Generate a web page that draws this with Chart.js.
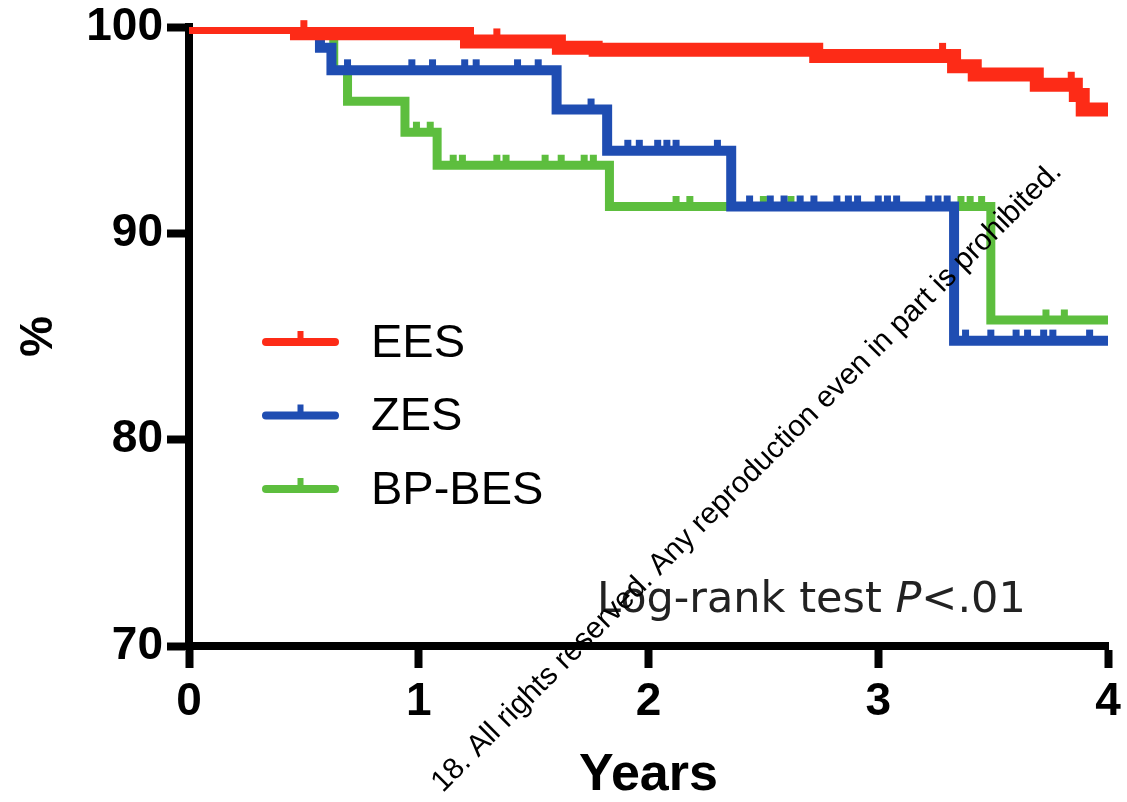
<!DOCTYPE html>
<html>
<head>
<title>Event-free survival by stent type</title>
<script src="https://cdn.jsdelivr.net/npm/chart.js"></script>
<style>
    body {
        margin: 0;
        padding: 0;
        background-color: #fff;
    }
    #wrap {
        width: 1127px;
        height: 802px;
    }
</style>
</head>
<body>
<div id="wrap"><canvas id="kmChart" width="1127" height="802"></canvas></div>

<script>
// Kaplan-Meier steps: time in years, estimate in %
var eesTimes = [0, 0.47, 1.21, 1.61, 1.77, 2.73, 3.33, 3.42, 3.69, 3.86, 3.89, 4.0];
var eesSurv  = [100, 99.7, 99.3, 99.0, 98.9, 98.6, 98.1, 97.7, 97.2, 96.7, 96.0, 96.0];
var eesCensor = [0.5, 1.34, 3.28, 3.84];

var zesTimes = [0, 0.57, 0.62, 1.60, 1.82, 2.36, 3.33, 4.0];
var zesSurv  = [100, 99.0, 97.9, 96.0, 94.0, 91.3, 84.8, 84.8];
var zesCensor = [0.69, 0.97, 1.06, 1.2, 1.25, 1.43, 1.52, 1.75, 1.91, 1.96, 2.04, 2.08,
                 2.12, 2.3, 2.44, 2.53, 2.59, 2.66, 2.72, 2.82, 2.87, 2.91, 3.0, 3.04,
                 3.08, 3.22, 3.26, 3.3, 3.38, 3.49, 3.6, 3.65, 3.72, 3.76, 3.92];

var bpTimes = [0, 0.63, 0.69, 0.94, 1.08, 1.83, 3.49, 4.0];
var bpSurv  = [100, 97.9, 96.4, 94.9, 93.3, 91.3, 85.8, 85.8];
var bpCensor = [0.99, 1.05, 1.15, 1.19, 1.34, 1.38, 1.55, 1.62, 1.72, 1.76, 2.12, 2.18,
                2.5, 2.62, 3.36, 3.4, 3.45, 3.73, 3.81];

var groupLabels = ['EES', 'ZES', 'BP-BES'];
var groupColors = ['#fd2b17', '#1f4db2', '#5dbe3e'];
var groupWidths = [14, 10, 9];

var xTicks = [0, 1, 2, 3, 4];
var yTicks = [70, 80, 90, 100];

var annotationText = ['Log-rank test ', 'P', '<.01'];
var noticeText = '18. All rights reserved. Any reproduction even in part is prohibited.';

function toPoints(times, surv) {
    return times.map(function(t, i) { return { x: t, y: surv[i] }; });
}

// survival value on the step curve at time t
function survAt(times, surv, t) {
    var s = surv[0];
    for (var i = 0; i < times.length; i++) {
        if (times[i] <= t) s = surv[i];
    }
    return s;
}

var curves = [
    { times: eesTimes, surv: eesSurv, censor: eesCensor },
    { times: zesTimes, surv: zesSurv, censor: zesCensor },
    { times: bpTimes, surv: bpSurv, censor: bpCensor }
];

var axisFont = { family: '"Liberation Sans", Arial, sans-serif', weight: 'bold', size: 46, lineHeight: 1 };

// small upward marks for censored observations
var censorMarks = {
    id: 'censorMarks',
    afterDatasetDraw: function(chart, args) {
        var c = curves[args.index];
        var ds = chart.data.datasets[args.index];
        var ctx = chart.ctx;
        var xs = chart.scales.x, ys = chart.scales.y;
        ctx.save();
        ctx.fillStyle = ds.borderColor;
        c.censor.forEach(function(t) {
            var px = xs.getPixelForValue(t);
            var py = ys.getPixelForValue(survAt(c.times, c.surv, t));
            var top = py - ds.borderWidth / 2;
            ctx.fillRect(px - 3.5, top - 6, 7, 7);
        });
        ctx.restore();
    }
};

// legend, test result and notice line
var overlay = {
    id: 'overlay',
    afterDraw: function(chart) {
        var ctx = chart.ctx;
        var area = chart.chartArea;
        ctx.save();

        chart.data.datasets.forEach(function(ds, i) {
            var y = area.top + 315 + i * 73.5;
            var x0 = area.left + 77, x1 = area.left + 146;
            ctx.strokeStyle = ds.borderColor;
            ctx.lineWidth = 8;
            ctx.lineCap = 'round';
            ctx.beginPath();
            ctx.moveTo(x0, y);
            ctx.lineTo(x1, y);
            ctx.stroke();
            ctx.fillStyle = ds.borderColor;
            ctx.fillRect((x0 + x1) / 2 - 3, y - 11, 6, 8);

            ctx.fillStyle = '#000';
            ctx.font = '47px "Liberation Sans", Arial, sans-serif';
            ctx.textBaseline = 'middle';
            ctx.textAlign = 'left';
            ctx.fillText(ds.label, area.left + 182, y + 2);
        });

        // log-rank result
        var x = 597, base = 612;
        var face = '"DejaVu Sans", sans-serif';
        ctx.fillStyle = '#222';
        ctx.textBaseline = 'alphabetic';
        ctx.font = '43px ' + face;
        ctx.fillText(annotationText[0], x, base);
        x += ctx.measureText(annotationText[0]).width;
        ctx.font = 'italic 43px ' + face;
        ctx.fillText(annotationText[1], x, base);
        x += ctx.measureText(annotationText[1]).width;
        ctx.font = '43px ' + face;
        ctx.fillText(annotationText[2], x, base);

        // diagonal notice
        ctx.translate(1063, 173);
        ctx.rotate(-45 * Math.PI / 180);
        ctx.font = '30px "Liberation Sans", Arial, sans-serif';
        ctx.fillStyle = '#000';
        ctx.textAlign = 'right';
        ctx.fillText(noticeText, 0, 0);

        ctx.restore();
    }
};

var ctx = document.getElementById('kmChart').getContext('2d');
var kmChart = new Chart(ctx, {
    type: 'line',
    data: {
        datasets: curves.map(function(c, i) {
            return {
                label: groupLabels[i],
                data: toPoints(c.times, c.surv),
                borderColor: groupColors[i],
                backgroundColor: groupColors[i],
                borderWidth: groupWidths[i],
                borderCapStyle: 'butt',
                borderJoinStyle: 'miter',
                stepped: 'before',
                pointRadius: 0,
                fill: false
            };
        })
    },
    options: {
        responsive: false,
        animation: false,
        layout: { padding: { top: 25, right: 19, bottom: 0, left: 0 } },
        plugins: {
            legend: { display: false },
            tooltip: { enabled: false }
        },
        scales: {
            x: {
                type: 'linear',
                min: 0,
                max: 4,
                afterBuildTicks: function(scale) {
                    scale.ticks = xTicks.map(function(v) { return { value: v }; });
                },
                afterFit: function(scale) {
                    scale.height = 156;
                    scale.paddingLeft = 0;
                    scale.paddingRight = 0;
                },
                ticks: { color: '#000', font: axisFont, padding: 11, maxRotation: 0, autoSkip: false },
                grid: { drawOnChartArea: false, tickLength: 22, tickWidth: 8, tickColor: '#000', color: '#000' },
                border: { color: '#000', width: 8 },
                title: {
                    display: true,
                    text: 'Years',
                    color: '#000',
                    font: { family: '"Liberation Sans", Arial, sans-serif', weight: 'bold', size: 52, lineHeight: 1.0 },
                    padding: 0
                }
            },
            y: {
                type: 'linear',
                min: 70,
                max: 100,
                afterBuildTicks: function(scale) {
                    scale.ticks = yTicks.map(function(v) { return { value: v }; });
                },
                afterFit: function(scale) { scale.width = 189; },
                ticks: { color: '#000', font: axisFont, padding: 4 },
                grid: { drawOnChartArea: false, tickLength: 22, tickWidth: 8, tickColor: '#000', color: '#000' },
                border: { color: '#000', width: 8 },
                title: {
                    display: true,
                    text: '%',
                    color: '#000',
                    font: { family: '"Liberation Sans", Arial, sans-serif', weight: 'bold', size: 46, lineHeight: 1.2 },
                    padding: { top: 12, bottom: 0 }
                }
            }
        }
    },
    plugins: [censorMarks, overlay]
});
</script>
</body>
</html>
